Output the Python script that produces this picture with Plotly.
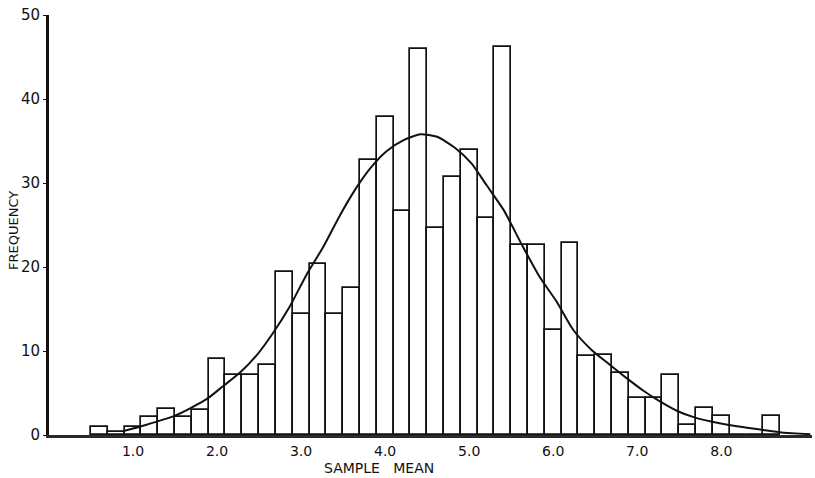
import plotly.graph_objects as go

# Histogram of sample means (bins of width 0.2, labelled by bin centre)
bin_centers = [0.6, 0.8, 1.0, 1.2, 1.4, 1.6, 1.8, 2.0, 2.2, 2.4, 2.6, 2.8, 3.0,
               3.2, 3.4, 3.6, 3.8, 4.0, 4.2, 4.4, 4.6, 4.8, 5.0, 5.2, 5.4, 5.6,
               5.8, 6.0, 6.2, 6.4, 6.6, 6.8, 7.0, 7.2, 7.4, 7.6, 7.8, 8.0, 8.2,
               8.4, 8.6]
frequencies = [0.9, 0.4, 0.9, 2.1, 3.1, 2.1, 3.0, 9.0, 7.2, 7.1, 8.3, 19.4, 14.4,
               20.4, 14.4, 17.5, 32.7, 37.9, 26.7, 46.0, 24.6, 30.7, 33.9, 25.8,
               46.2, 22.6, 22.6, 12.5, 22.8, 9.4, 9.5, 7.4, 4.4, 4.4, 7.1, 1.2,
               3.2, 2.3, 0.0, 0.0, 2.3]
bin_width = 0.2

# Fitted frequency curve
curve_x = [0.9, 1.12, 1.5, 1.88, 2.07, 2.27, 2.48, 2.67, 2.86, 3.06, 3.27, 3.46,
           3.63, 3.82, 4.02, 4.22, 4.42, 4.62, 4.83, 5.03, 5.21, 5.41, 5.63,
           5.84, 6.04, 6.24, 6.46, 6.67, 6.87, 7.07, 7.27, 7.49, 7.68, 7.88,
           8.09, 8.5, 8.72, 9.06]
curve_y = [0.5, 1.1, 2.3, 4.3, 5.8, 7.4, 9.6, 12.2, 15.2, 19.0, 22.5, 26.1,
           29.0, 31.7, 33.8, 35.1, 35.8, 35.5, 34.2, 32.3, 29.7, 26.8, 22.6,
           18.8, 15.9, 12.5, 10.1, 8.4, 6.8, 5.3, 4.0, 2.8, 2.1, 1.6,
           1.2, 0.6, 0.3, 0.1]

x_ticks = [1, 2, 3, 4, 5, 6, 7, 8]
x_ticktext = ["1.0", "2.0", "3.0", "4.0", "5.0", "6.0", "7.0", "8.0"]
y_ticks = [0, 10, 20, 30, 40, 50]

FONT = "DejaVu Sans"
INK = "#111111"

fig = go.Figure()
fig.add_trace(go.Bar(
    x=bin_centers, y=frequencies, width=bin_width,
    marker=dict(color="white", line=dict(color=INK, width=1.7)),
    showlegend=False, hoverinfo="x+y",
))
fig.add_trace(go.Scatter(
    x=curve_x, y=curve_y, mode="lines",
    line=dict(color=INK, width=2, shape="spline", smoothing=0.6),
    showlegend=False, hoverinfo="skip",
))

left, right, top, bottom = 49, 3, 15, 43
plot_w = 815 - left - right
plot_h = 478 - top - bottom

fig.update_layout(
    width=815, height=478,
    margin=dict(l=left, r=right, t=top, b=bottom),
    paper_bgcolor="white", plot_bgcolor="white",
    bargap=0,
    font=dict(family=FONT, color=INK),
    xaxis=dict(
        range=[0, 9.08], tickvals=x_ticks, ticktext=x_ticktext,
        showgrid=False, zeroline=False, showline=True,
        linecolor="#2a2a2a", linewidth=2.5, ticks="",
        tickfont=dict(size=14, family=FONT, color=INK),
        ticklabelstandoff=1,
    ),
    yaxis=dict(
        range=[0, 50], tickvals=y_ticks,
        showgrid=False, zeroline=False, showline=True,
        linecolor=INK, linewidth=3, ticks="outside", ticklen=3,
        tickwidth=1, tickcolor=INK,
        tickfont=dict(size=15, family=FONT, color=INK),
    ),
)

# Axis titles
fig.add_annotation(
    text="SAMPLE   MEAN", xref="paper", yref="paper",
    x=(379 - left) / plot_w, y=-(468 - 435) / plot_h,
    showarrow=False, font=dict(size=14, family=FONT, color=INK),
    xanchor="center", yanchor="middle",
)
fig.add_annotation(
    text="FREQUENCY", xref="paper", yref="paper",
    x=-(left - 14) / plot_w, y=(435 - 231) / plot_h, textangle=-90,
    showarrow=False, font=dict(size=13, family=FONT, color=INK),
    xanchor="center", yanchor="middle",
)

fig.write_html("out.html")
